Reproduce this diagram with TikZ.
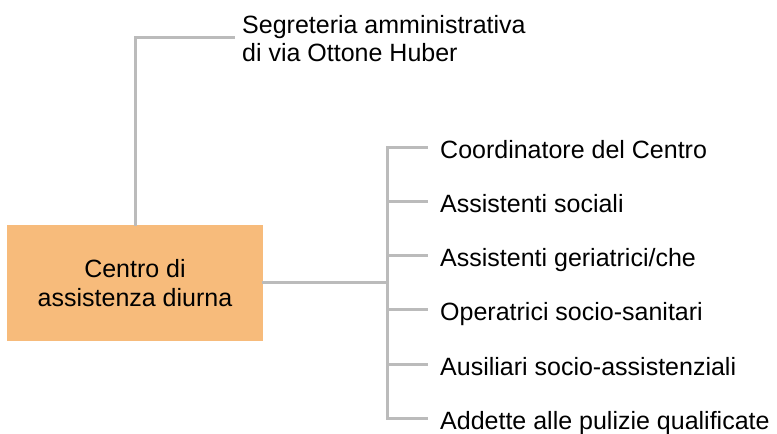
\documentclass[tikz,border=0pt]{standalone}
\usepackage{fontspec}
\setmainfont{Liberation Sans}
\definecolor{linegray}{HTML}{BBBBBB}
\definecolor{boxorange}{HTML}{F7BB7B}
\tikzset{
  orgline/.style={line width=3pt, linegray, line cap=rect},
  mainbox/.style={fill=boxorange, minimum width=256pt, minimum height=116pt, align=center, inner sep=0pt},
  item/.style={anchor=base west, inner sep=0pt, align=left}
}
\begin{document}
\begin{tikzpicture}[x=1pt, y=-1pt, font=\fontsize{25}{29}\selectfont]

\useasboundingbox (0,0) rectangle (777,434);

% main box
\node[mainbox] (centro) at (135,283) {Centro di\\assistenza diurna};

% labels
\node[item, font=\fontsize{25}{28}\selectfont] (segreteria) at (242,61) {Segreteria amministrativa\\di via Ottone Huber};
\node[item] (coord) at (440,158) {Coordinatore del Centro};
\node[item] (sociali) at (440,212) {Assistenti sociali};
\node[item] (geriatr) at (440,266) {Assistenti geriatrici/che};
\node[item] (oss) at (440,320) {Operatrici socio-sanitari};
\node[item] (ausil) at (440,375) {Ausiliari socio-assistenziali};
\node[item] (pulizie) at (440,429) {Addette alle pulizie qualificate};

% line ends
\coordinate (segk) at (233,37);
\coordinate (bus) at (387,282);
\coordinate (tcoord) at (426,147);
\coordinate (tsociali) at (426,201);
\coordinate (tgeriatr) at (426,255);
\coordinate (toss) at (426,309);
\coordinate (tausil) at (426,364);
\coordinate (tpulizie) at (426,418);

% lines
\draw[orgline] (centro.north) |- (segk);
\draw[orgline] (centro.east |- bus) -- (bus);
\draw[orgline] (tcoord -| bus) -- (tpulizie -| bus);
\draw[orgline] (tcoord -| bus) -- (tcoord);
\draw[orgline] (tsociali -| bus) -- (tsociali);
\draw[orgline] (tgeriatr -| bus) -- (tgeriatr);
\draw[orgline] (toss -| bus) -- (toss);
\draw[orgline] (tausil -| bus) -- (tausil);
\draw[orgline] (tpulizie -| bus) -- (tpulizie);

\end{tikzpicture}
\end{document}
